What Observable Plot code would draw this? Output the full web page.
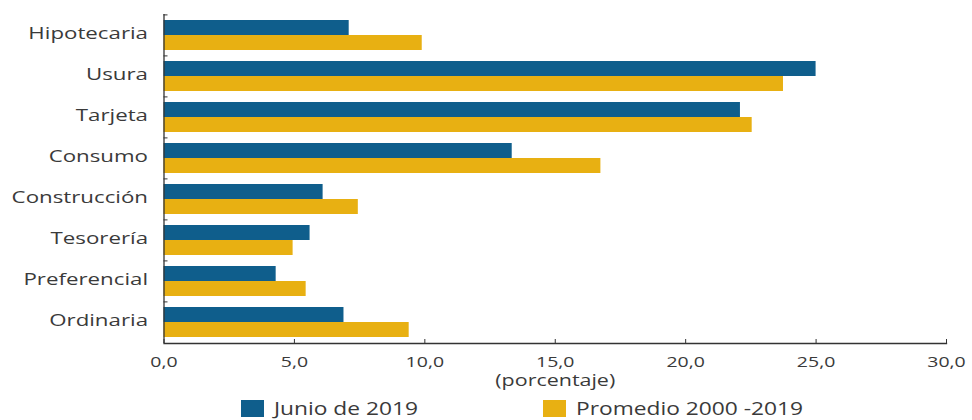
<!DOCTYPE html>
<html><head><meta charset="utf-8">
<script src="https://cdn.jsdelivr.net/npm/d3@7"></script>
<script src="https://cdn.jsdelivr.net/npm/@observablehq/plot@0.6"></script>
<style>
body{margin:0;width:972px;height:420px;overflow:hidden;background:#fff;font-family:"Open Sans",sans-serif;position:relative}
#chart{position:absolute;top:0;left:0}
#legend{position:absolute;top:397px;left:0;width:972px;height:30px}
.item{position:absolute;top:0;display:flex;align-items:center;font-size:17.5px;line-height:22px;color:#3a3a3a;white-space:nowrap}
.item .lab{display:inline-block;transform:scaleX(1.3);transform-origin:left center}
.sw{width:23px;height:17px;display:inline-block;margin-right:10px}
</style></head><body><div id="chart"></div><div id="legend"></div>
<script>
const categories = ["Hipotecaria","Usura","Tarjeta","Consumo","Construcción","Tesorería","Preferencial","Ordinaria"];
const junio2019 = [7.1, 25.0, 22.1, 13.35, 6.1, 5.6, 4.3, 6.9];
const promedio2000_2019 = [9.9, 23.75, 22.55, 16.75, 7.45, 4.95, 5.45, 9.4];
const seriesNames = ["Junio de 2019","Promedio 2000 -2019"];
const seriesColors = ["#0f5e8c","#e8b012"];
const xTicks = [0,5,10,15,20,25,30];
const axisTitle = "(porcentaje)";

const rowsJ = categories.map((c,i)=>({categoria:c, serie:seriesNames[0], valor:junio2019[i]}));
const rowsP = categories.map((c,i)=>({categoria:c, serie:seriesNames[1], valor:promedio2000_2019[i]}));
const fmt = d => d.toFixed(1).replace(".", ",");
const ink = "#3a3a3a";

const chart = Plot.plot({
  width: 972,
  height: 396,
  marginLeft: 163.5,
  marginRight: 26,
  marginTop: 14,
  marginBottom: 53,
  style: {fontFamily: '"Open Sans", sans-serif', color: ink, background: "#fff", overflow: "visible"},
  x: {domain: [0, 30]},
  y: {domain: categories, paddingInner: 0.27, paddingOuter: 0.13},
  marks: [
    Plot.barX(rowsJ, {x: "valor", y: "categoria", fill: seriesColors[0], insetBottom: 15}),
    Plot.barX(rowsP, {x: "valor", y: "categoria", fill: seriesColors[1], insetTop: 15}),
    Plot.ruleX([0], {stroke: "#333", strokeWidth: 1.3}),
    Plot.frame({anchor: "bottom", stroke: "#333", strokeWidth: 1.3}),
    Plot.axisY({tickSize: 0, tickPadding: 16, fontSize: 17, dy: -1.5, label: null, fill: ink}),
    Plot.axisY({tickSize: -4, tickFormat: () => "", dy: -20.6, label: null, stroke: "#333"}),
    Plot.axisX({ticks: xTicks, tickSize: -4, tickFormat: () => "", label: null, stroke: "#333"}),
    Plot.axisX({ticks: xTicks, tickSize: 0, tickPadding: 12.5, tickFormat: fmt, fontSize: 15, label: null, fill: ink}),
    Plot.text([axisTitle], {frameAnchor: "bottom", dy: 42, fontSize: 16.5, fill: ink})
  ]
});
document.getElementById("chart").appendChild(chart);

function stretch(sel, k) {
  sel.each(function() {
    const L = this.getComputedTextLength();
    if (L > 0) {
      this.setAttribute("textLength", (L * k).toFixed(2));
      this.setAttribute("lengthAdjust", "spacingAndGlyphs");
    }
  });
}
const svg = d3.select(chart);
stretch(svg.selectAll('g[aria-label="y-axis tick label"] text'), 1.31);
stretch(svg.selectAll('g[aria-label="x-axis tick label"] text'), 1.3);
stretch(svg.selectAll('g[aria-label="text"] text'), 1.3);

const legend = document.getElementById("legend");
const lx = [241, 543];
seriesNames.forEach((n,i)=>{
  const it = document.createElement("div");
  it.className = "item";
  it.style.left = lx[i] + "px";
  it.innerHTML = `<span class="sw" style="background:${seriesColors[i]}"></span><span class="lab">${n}</span>`;
  legend.appendChild(it);
});
</script>
</body></html>
